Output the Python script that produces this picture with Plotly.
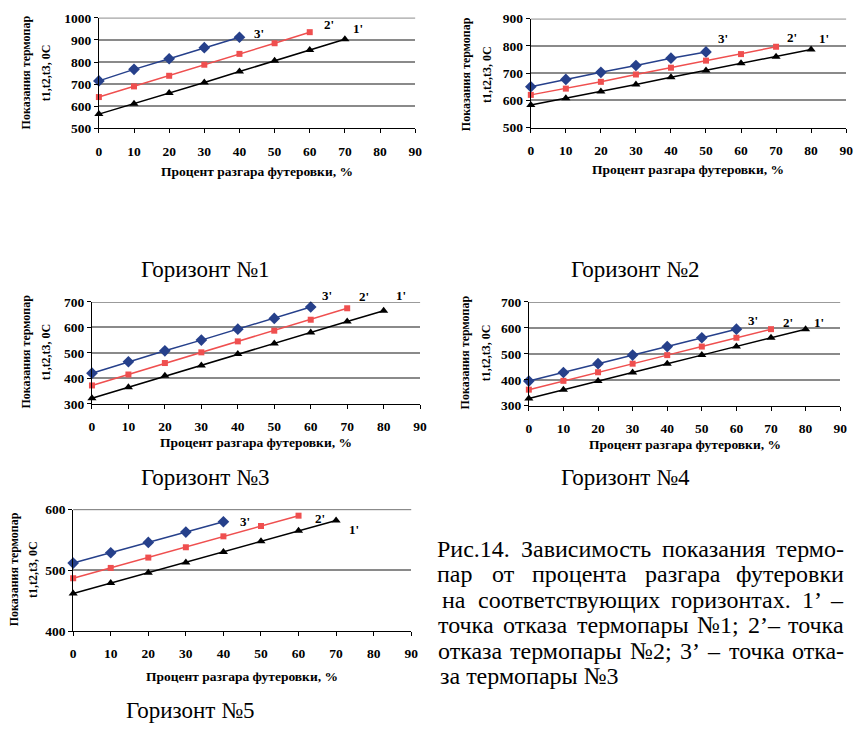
import plotly.graph_objects as go

W, H = 864, 740

# ---------------- data ----------------
pct = [0, 10, 20, 30, 40, 50, 60, 70, 80]

h1_t3 = [715, 767, 815, 865, 912]
h1_t2 = [642, 690, 738, 788, 837, 885, 935]
h1_t1 = [565, 612, 660, 708, 757, 806, 855, 903]

h2_t3 = [650, 677, 703, 728, 755, 778]
h2_t2 = [620, 643, 668, 695, 720, 746, 770, 797]
h2_t1 = [583, 608, 632, 658, 685, 710, 736, 760, 787]

h3_t3 = [420, 465, 508, 550, 593, 635, 680]
h3_t2 = [372, 415, 460, 502, 545, 587, 630, 675]
h3_t1 = [322, 365, 410, 450, 495, 537, 580, 623, 665]

h4_t3 = [395, 428, 462, 495, 528, 562, 595]
h4_t2 = [362, 396, 429, 462, 495, 528, 562, 595]
h4_t1 = [328, 362, 395, 428, 462, 495, 528, 562, 595]

h5_t3 = [512, 529, 546, 563, 580]
h5_t2 = [487, 504, 521, 538, 556, 573, 590]
h5_t1 = [462, 479, 496, 513, 530, 548, 565, 582]

x_ticks = [0, 10, 20, 30, 40, 50, 60, 70, 80, 90]
y_ticks1 = [500, 600, 700, 800, 900, 1000]
y_ticks2 = [500, 600, 700, 800, 900]
y_ticks3 = [300, 400, 500, 600, 700]
y_ticks4 = [300, 400, 500, 600, 700]
y_ticks5 = [400, 500, 600]

point_labels = ["1'", "2'", "3'"]
captions = ["Горизонт №1", "Горизонт №2", "Горизонт №3", "Горизонт №4", "Горизонт №5"]
y_title_1 = "Показания термопар"
y_title_2 = "t1,t2,t3, 0C"
x_title = "Процент разгара футеровки, %"
fig_caption = [
    "Рис.14. Зависимость показания термо-",
    "пар от процента разгара футеровки",
    "на соответствующих горизонтах. 1’ –",
    "точка отказа термопары №1; 2’– точка",
    "отказа термопары №2; 3’ – точка отка-",
    "за термопары №3",
]

# ---------------- styling ----------------
FONT = "Liberation Serif, Times New Roman, serif"
BLUE = "#26408B"
RED = "#EF4F4F"
BLACK = "#000000"

panels = [
    dict(box=(97, 417, 11, 124), yr=(500, 1000), yt=y_ticks1,
         s=(h1_t1, h1_t2, h1_t3), off=((6, -11), (12, -8), (13, -4)),
         yx=(23, 43), yc=67, xt=168, cap=(205, 268)),
    dict(box=(534, 853, 12, 123), yr=(500, 900), yt=y_ticks2,
         s=(h2_t1, h2_t2, h2_t3), off=((6, -11), (9, -9), (10, -13)),
         yx=(468, 489), yc=69, xt=166, cap=(640, 268)),
    dict(box=(90, 422, 301, 405), yr=(300, 700), yt=y_ticks3,
         s=(h3_t1, h3_t2, h3_t3), off=((10, -15), (10, -12), (9, -11)),
         yx=(23, 43), yc=352, xt=445, cap=(205, 480)),
    dict(box=(532, 847, 301, 407), yr=(300, 700), yt=y_ticks4,
         s=(h4_t1, h4_t2, h4_t3), off=((6, -7), (10, -7), (10, -9)),
         yx=(467, 489), yc=353, xt=447, cap=(630, 480)),
    dict(box=(71, 413, 513, 637), yr=(400, 600), yt=y_ticks5,
         s=(h5_t1, h5_t2, h5_t3), off=((11, 9), (14, 3), (15, 0)),
         yx=(12, 31), yc=574, xt=683, cap=(190, 718)),
]

styles = [
    dict(color=BLACK, symbol="triangle-up", size=8),
    dict(color=RED, symbol="square", size=6),
    dict(color=BLUE, symbol="diamond", size=9),
]

fig = go.Figure()
annotations = []
layout = {}

tick_font = dict(family=FONT, size=13.5, color="black", weight="bold")

for i, p in enumerate(panels):
    n = "" if i == 0 else str(i + 1)
    xa, ya = "x" + n, "y" + n
    l, r, t, b = p["box"]
    layout["xaxis" + n] = dict(
        domain=[l / W, r / W], anchor=ya, range=[0, 90], tickvals=x_ticks,
        showgrid=False, showline=True, linecolor="black", linewidth=1,
        ticks="outside", ticklen=4, tickcolor="black",
        tickfont=tick_font, ticklabelstandoff=6, zeroline=False, fixedrange=True,
    )
    layout["yaxis" + n] = dict(
        domain=[1 - b / H, 1 - t / H], anchor=xa, range=list(p["yr"]), tickvals=p["yt"],
        showgrid=True, gridcolor="#8a8a8a", gridwidth=1.5,
        showline=True, linecolor="black", linewidth=1,
        ticks="outside", ticklen=4, tickcolor="black",
        tickfont=tick_font, zeroline=False, fixedrange=True,
    )
    fig.add_shape(type="line", xref=xa + " domain", yref=ya, x0=0, x1=1,
                  y0=p["yr"][1], y1=p["yr"][1], line=dict(color="black", width=1))

    for k, (series, st) in enumerate(zip(p["s"], styles)):
        xs = pct[:len(series)]
        fig.add_trace(go.Scatter(
            x=xs, y=series, xaxis=xa, yaxis=ya, mode="lines+markers",
            line=dict(color=st["color"], width=1.5),
            marker=dict(symbol=st["symbol"], size=st["size"], color=st["color"]),
            showlegend=False, cliponaxis=False, hoverinfo="x+y",
        ))
        dx, dy = p["off"][k]
        annotations.append(dict(
            x=xs[-1], y=series[-1], xref=xa, yref=ya, text=point_labels[k],
            showarrow=False, xanchor="left", yanchor="middle",
            xshift=dx, yshift=-dy,
            font=dict(family=FONT, size=13, color="black", weight="bold"),
        ))

    annotations.append(dict(
        x=(l + r) / 2 / W, y=1 - p["xt"] / H, xref="paper", yref="paper",
        text=x_title, showarrow=False, xanchor="center", yanchor="middle",
        font=dict(family=FONT, size=13.5, color="black", weight="bold"),
    ))
    for txt, xp in zip((y_title_1, y_title_2), p["yx"]):
        annotations.append(dict(
            x=xp / W, y=1 - p["yc"] / H, xref="paper", yref="paper",
            text=txt, showarrow=False, textangle=-90,
            xanchor="center", yanchor="middle",
            font=dict(family=FONT, size=12, color="black", weight="bold"),
        ))
    cx, cy = p["cap"]
    annotations.append(dict(
        x=cx / W, y=1 - cy / H, xref="paper", yref="paper",
        text=captions[i], showarrow=False, xanchor="center", yanchor="middle",
        font=dict(family=FONT, size=23, color="black"),
    ))

# ---------------- justified figure caption ----------------
# approximate Times (Liberation Serif) advance widths, 1/1000 em
_w = {
    "а": 444, "б": 509, "в": 472, "г": 410, "д": 509, "е": 444, "ж": 691, "з": 395,
    "и": 535, "й": 535, "к": 486, "л": 499, "м": 633, "н": 535, "о": 500, "п": 535,
    "р": 500, "с": 444, "т": 437, "у": 500, "ф": 648, "х": 500, "ц": 535, "ч": 503,
    "ш": 770, "щ": 770, "ъ": 517, "ы": 672, "ь": 456, "э": 429, "ю": 747, "я": 486,
    "Р": 556, "З": 493, ".": 250, ";": 278, "’": 333, "–": 500, "-": 333, "№": 940,
}


def text_w(s, size):
    return sum(_w.get(c, 500) for c in s) * size / 1000.0


CAP_SIZE = 24
cap_font = dict(family=FONT, size=CAP_SIZE, color="black")
line_start = [440, 440, 445, 440, 440, 440]
CAP_R = 853
for j, line in enumerate(fig_caption):
    ypos = 1 - (553 + 26 * j) / H
    words = line.split(" ")
    if j == len(fig_caption) - 1:
        annotations.append(dict(
            x=line_start[j] / W, y=ypos, xref="paper", yref="paper",
            text=line.replace(" ", "\u00a0"), showarrow=False,
            xanchor="left", yanchor="middle", font=cap_font,
        ))
        continue
    widths = [text_w(wd, CAP_SIZE) for wd in words]
    gap = (CAP_R - line_start[j] - sum(widths)) / (len(words) - 1)
    cur = line_start[j]
    for k, (wd, wdt) in enumerate(zip(words, widths)):
        if k == len(words) - 1:
            annotations.append(dict(
                x=CAP_R / W, y=ypos, xref="paper", yref="paper", text=wd,
                showarrow=False, xanchor="right", yanchor="middle", font=cap_font,
            ))
        else:
            annotations.append(dict(
                x=(cur + wdt / 2) / W, y=ypos, xref="paper", yref="paper", text=wd,
                showarrow=False, xanchor="center", yanchor="middle", font=cap_font,
            ))
        cur += wdt + gap

fig.update_layout(
    width=W, height=H, margin=dict(l=0, r=0, t=0, b=0),
    paper_bgcolor="white", plot_bgcolor="white",
    annotations=annotations, **layout,
)

fig.write_html(
    "out.html",
    config={"displayModeBar": False},
    post_script="document.body.style.margin='0';document.body.style.overflow='hidden';",
)
